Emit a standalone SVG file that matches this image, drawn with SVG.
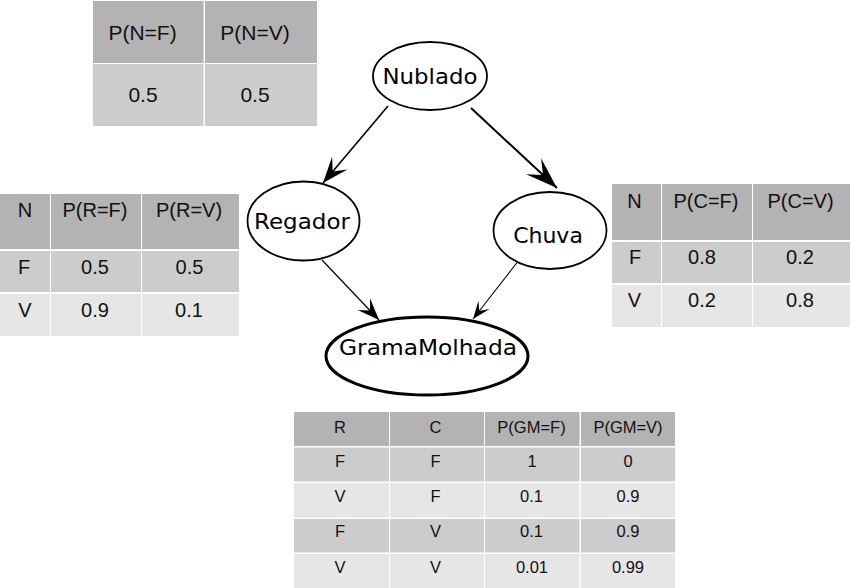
<svg xmlns="http://www.w3.org/2000/svg" width="850" height="588" viewBox="0 0 850 588">
<style>
.h{fill:#b3b3b3}
.r1{fill:#cccccc}
.r2{fill:#e6e6e6}
.t{font-family:"Liberation Sans",Arial,sans-serif;font-size:20px;fill:#111;text-anchor:middle}
.ts{font-family:"Liberation Sans",Arial,sans-serif;font-size:16.5px;fill:#111;text-anchor:middle}
.tn{font-family:"Liberation Sans",Arial,sans-serif;font-size:21px;fill:#111;text-anchor:middle}
.node ellipse{fill:#fff;stroke:#000;stroke-width:1.8}
.node ellipse.thick{stroke-width:3}
.node text{font-family:"DejaVu Sans",sans-serif;font-size:22px;fill:#000;text-anchor:middle}
.edge{stroke:#000;fill:none}
</style>
<defs>
<marker id="aL" markerUnits="userSpaceOnUse" viewBox="-34 -14 36 28" refX="0" refY="0" markerWidth="36" markerHeight="28" orient="auto">
<path d="M0,0 L-32,-11 L-19,0 L-32,11 Z" fill="#000"/>
</marker>
<marker id="aM" markerUnits="userSpaceOnUse" viewBox="-30 -12 32 24" refX="0" refY="0" markerWidth="32" markerHeight="24" orient="auto">
<path d="M0,0 L-26,-10 L-15,0 L-26,10 Z" fill="#000"/>
</marker>
<marker id="aS" markerUnits="userSpaceOnUse" viewBox="-26 -10 28 20" refX="0" refY="0" markerWidth="28" markerHeight="20" orient="auto">
<path d="M0,0 L-22,-8.5 L-13,0 L-22,8.5 Z" fill="#000"/>
</marker>
<marker id="aXS" markerUnits="userSpaceOnUse" viewBox="-22 -9 24 18" refX="0" refY="0" markerWidth="24" markerHeight="18" orient="auto">
<path d="M0,0 L-18,-7 L-10,0 L-18,7 Z" fill="#000"/>
</marker>
</defs>
<rect width="850" height="588" fill="#fff"/>

<g id="table-N">
<rect class="h" x="93" y="1" width="110.5" height="62"/>
<rect class="h" x="205" y="1" width="112" height="62"/>
<rect class="r1" x="93" y="64" width="110.5" height="62"/>
<rect class="r1" x="205" y="64" width="112" height="62"/>
<text class="tn" x="142.5" y="40">P(N=F)</text>
<text class="tn" x="255" y="40">P(N=V)</text>
<text class="tn" x="143" y="102">0.5</text>
<text class="tn" x="255" y="102">0.5</text>
</g>

<g id="table-R">
<rect class="h" x="0" y="194" width="50" height="55"/>
<rect class="h" x="51" y="194" width="90" height="55"/>
<rect class="h" x="142" y="194" width="97" height="55"/>
<rect class="r1" x="0" y="251" width="50" height="41"/>
<rect class="r1" x="51" y="251" width="90" height="41"/>
<rect class="r1" x="142" y="251" width="97" height="41"/>
<rect class="r2" x="0" y="294" width="50" height="42"/>
<rect class="r2" x="51" y="294" width="90" height="42"/>
<rect class="r2" x="142" y="294" width="97" height="42"/>
<text class="t" x="25" y="217">N</text>
<text class="t" x="95" y="217">P(R=F)</text>
<text class="t" x="189" y="217">P(R=V)</text>
<text class="t" x="24" y="274">F</text>
<text class="t" x="95" y="274">0.5</text>
<text class="t" x="189.5" y="274">0.5</text>
<text class="t" x="25" y="317">V</text>
<text class="t" x="95" y="317">0.9</text>
<text class="t" x="189" y="317">0.1</text>
</g>

<g id="table-C">
<rect class="h" x="612" y="184" width="49" height="56"/>
<rect class="h" x="662" y="184" width="90" height="56"/>
<rect class="h" x="753" y="184" width="97" height="56"/>
<rect class="r1" x="612" y="242" width="49" height="41"/>
<rect class="r1" x="662" y="242" width="90" height="41"/>
<rect class="r1" x="753" y="242" width="97" height="41"/>
<rect class="r2" x="612" y="285" width="49" height="42"/>
<rect class="r2" x="662" y="285" width="90" height="42"/>
<rect class="r2" x="753" y="285" width="97" height="42"/>
<text class="t" x="634.5" y="208">N</text>
<text class="t" x="706" y="208">P(C=F)</text>
<text class="t" x="800.5" y="208">P(C=V)</text>
<text class="t" x="635" y="264">F</text>
<text class="t" x="702" y="264">0.8</text>
<text class="t" x="800" y="264">0.2</text>
<text class="t" x="634.5" y="307">V</text>
<text class="t" x="702" y="307">0.2</text>
<text class="t" x="800" y="307">0.8</text>
</g>

<g id="table-GM">
<rect class="h" x="294" y="412" width="95" height="34"/>
<rect class="h" x="390" y="412" width="94" height="34"/>
<rect class="h" x="485" y="412" width="94.5" height="34"/>
<rect class="h" x="581" y="412" width="94" height="34"/>
<rect class="r1" x="294" y="447.5" width="95" height="34"/>
<rect class="r1" x="390" y="447.5" width="94" height="34"/>
<rect class="r1" x="485" y="447.5" width="94.5" height="34"/>
<rect class="r1" x="581" y="447.5" width="94" height="34"/>
<rect class="r2" x="294" y="483" width="95" height="34.5"/>
<rect class="r2" x="390" y="483" width="94" height="34.5"/>
<rect class="r2" x="485" y="483" width="94.5" height="34.5"/>
<rect class="r2" x="581" y="483" width="94" height="34.5"/>
<rect class="r1" x="294" y="519" width="95" height="33.5"/>
<rect class="r1" x="390" y="519" width="94" height="33.5"/>
<rect class="r1" x="485" y="519" width="94.5" height="33.5"/>
<rect class="r1" x="581" y="519" width="94" height="33.5"/>
<rect class="r2" x="294" y="554" width="95" height="34"/>
<rect class="r2" x="390" y="554" width="94" height="34"/>
<rect class="r2" x="485" y="554" width="94.5" height="34"/>
<rect class="r2" x="581" y="554" width="94" height="34"/>
<text class="ts" x="340" y="433">R</text>
<text class="ts" x="435.5" y="433">C</text>
<text class="ts" x="531.5" y="433">P(GM=F)</text>
<text class="ts" x="628" y="433">P(GM=V)</text>
<text class="ts" x="340" y="467">F</text>
<text class="ts" x="435.5" y="467">F</text>
<text class="ts" x="532" y="467">1</text>
<text class="ts" x="628" y="467">0</text>
<text class="ts" x="340" y="502">V</text>
<text class="ts" x="435.5" y="502">F</text>
<text class="ts" x="531.5" y="502">0.1</text>
<text class="ts" x="628" y="502">0.9</text>
<text class="ts" x="340" y="537">F</text>
<text class="ts" x="435.5" y="537">V</text>
<text class="ts" x="531.5" y="537">0.1</text>
<text class="ts" x="628" y="537">0.9</text>
<text class="ts" x="340" y="573">V</text>
<text class="ts" x="435.5" y="573">V</text>
<text class="ts" x="532" y="573">0.01</text>
<text class="ts" x="628" y="573">0.99</text>
</g>

<g id="connectors">
<line class="edge" x1="388" y1="106" x2="323" y2="183" stroke-width="1.6" marker-end="url(#aM)"/>
<line class="edge" x1="471" y1="108" x2="557" y2="188" stroke-width="2" marker-end="url(#aL)"/>
<line class="edge" x1="322" y1="260" x2="379" y2="320" stroke-width="1.2" marker-end="url(#aS)"/>
<line class="edge" x1="519" y1="260" x2="473" y2="319" stroke-width="1.1" marker-end="url(#aXS)"/>
</g>

<g id="node-Nublado" class="node">
<ellipse cx="430" cy="76" rx="57" ry="34"/>
<text x="430" y="84" textLength="95" lengthAdjust="spacingAndGlyphs">Nublado</text>
</g>
<g id="node-Regador" class="node">
<ellipse cx="303.5" cy="221" rx="56" ry="39.5"/>
<text x="302" y="229" textLength="96" lengthAdjust="spacingAndGlyphs">Regador</text>
</g>
<g id="node-Chuva" class="node">
<ellipse cx="550" cy="230.5" rx="56.5" ry="38.5"/>
<text x="548" y="243">Chuva</text>
</g>
<g id="node-GramaMolhada" class="node">
<ellipse class="thick" cx="427" cy="356" rx="101" ry="39"/>
<text x="428" y="355" textLength="178" lengthAdjust="spacingAndGlyphs">GramaMolhada</text>
</g>
</svg>
